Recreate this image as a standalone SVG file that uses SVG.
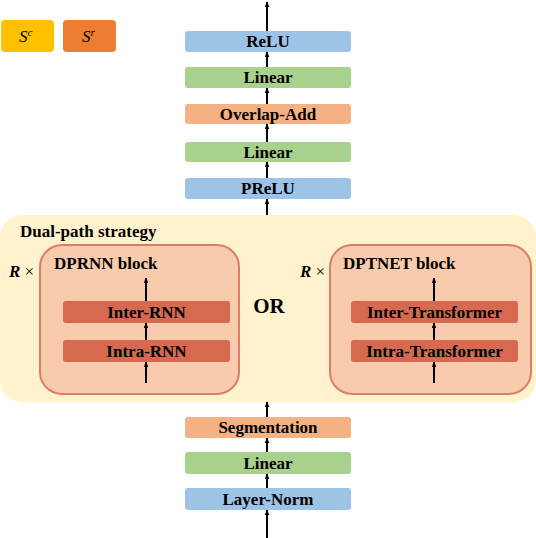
<svg xmlns="http://www.w3.org/2000/svg" width="536" height="538" viewBox="0 0 536 538">
<defs>
<marker id="ah" viewBox="0 0 10 10" refX="9" refY="5" markerWidth="6" markerHeight="5" orient="auto" markerUnits="userSpaceOnUse" preserveAspectRatio="none">
<path d="M0,0 L10,5 L0,10 z" fill="#000"/>
</marker>
<style>
.lbl{font-size:17px;text-anchor:middle;}
.blue{fill:#9DC3E6;}
.green{fill:#A9D18E;}
.orange{fill:#F4B183;}
.inner{fill:#D6694F;}
.blk{fill:#F8CBAD;stroke:#DD7D66;stroke-width:2;}
.arr{stroke:#000;stroke-width:2;fill:none;marker-end:url(#ah);}
</style>
</defs>
<rect width="536" height="538" fill="#fff"/>
<g id="legend">
<rect x="1" y="20" width="53" height="32" rx="4" fill="#FFC000"/>
<rect x="63" y="20" width="53" height="32" rx="4" fill="#ED7D31"/>
<text x="19" y="42" font-family="Liberation Serif" font-size="17" font-style="italic">S<tspan font-size="11" dy="-6">c</tspan></text>
<text x="82" y="42" font-family="Liberation Serif" font-size="17" font-style="italic">S<tspan font-size="11" dy="-6">r</tspan></text>
</g>
<g id="dualpath">
<rect x="0" y="215" width="536" height="187" rx="22" fill="#FFF2CC"/>
<text x="20" y="237" font-family="Liberation Serif" font-weight="bold" font-size="17">Dual-path strategy</text>
<text x="269" y="313" font-family="Liberation Serif" font-weight="bold" font-size="21" text-anchor="middle">OR</text>
</g>
<g id="dprnn">
<rect class="blk" x="40" y="245" width="199" height="149" rx="22"/>
<text x="54" y="269" font-family="Liberation Serif" font-weight="bold" font-size="17">DPRNN block</text>
<text x="9" y="277" font-family="Liberation Serif" font-weight="bold" font-size="17"><tspan font-style="italic">R</tspan> <tspan font-weight="normal">×</tspan></text>
</g>
<g id="inter-rnn"><rect class="inner" x="63" y="301" width="167" height="22" rx="3"/><text class="lbl" font-family="Liberation Serif" font-weight="bold" x="146.5" y="318">Inter-RNN</text></g>
<g id="intra-rnn"><rect class="inner" x="63" y="340" width="167" height="22" rx="3"/><text class="lbl" font-family="Liberation Serif" font-weight="bold" x="146.5" y="357">Intra-RNN</text></g>
<g id="dptnet">
<rect class="blk" x="330" y="245" width="201" height="149" rx="22"/>
<text x="343" y="269" font-family="Liberation Serif" font-weight="bold" font-size="17">DPTNET block</text>
<text x="300" y="277" font-family="Liberation Serif" font-weight="bold" font-size="17"><tspan font-style="italic">R</tspan> <tspan font-weight="normal">×</tspan></text>
</g>
<g id="inter-tf"><rect class="inner" x="351" y="301" width="167" height="22" rx="3"/><text class="lbl" font-family="Liberation Serif" font-weight="bold" x="434.5" y="318">Inter-Transformer</text></g>
<g id="intra-tf"><rect class="inner" x="351" y="340" width="167" height="22" rx="3"/><text class="lbl" font-family="Liberation Serif" font-weight="bold" x="434.5" y="357">Intra-Transformer</text></g>
<g id="relu"><rect class="blue" x="185" y="31" width="166" height="21" rx="3"/><text class="lbl" font-family="Liberation Serif" font-weight="bold" x="268" y="47">ReLU</text></g>
<g id="linear2"><rect class="green" x="185" y="67" width="166" height="21" rx="3"/><text class="lbl" font-family="Liberation Serif" font-weight="bold" x="268" y="83">Linear</text></g>
<g id="overlap"><rect class="orange" x="185" y="104" width="166" height="20" rx="3"/><text class="lbl" font-family="Liberation Serif" font-weight="bold" x="268" y="120">Overlap-Add</text></g>
<g id="linear1"><rect class="green" x="185" y="142" width="166" height="20" rx="3"/><text class="lbl" font-family="Liberation Serif" font-weight="bold" x="268" y="158">Linear</text></g>
<g id="prelu"><rect class="blue" x="185" y="178" width="166" height="21" rx="3"/><text class="lbl" font-family="Liberation Serif" font-weight="bold" x="268" y="194">PReLU</text></g>
<g id="segmentation"><rect class="orange" x="185" y="417" width="166" height="21" rx="3"/><text class="lbl" font-family="Liberation Serif" font-weight="bold" x="268" y="433">Segmentation</text></g>
<g id="linear0"><rect class="green" x="185" y="452" width="166" height="22" rx="3"/><text class="lbl" font-family="Liberation Serif" font-weight="bold" x="268" y="469">Linear</text></g>
<g id="layernorm"><rect class="blue" x="185" y="488" width="166" height="22" rx="3"/><text class="lbl" font-family="Liberation Serif" font-weight="bold" x="268" y="505">Layer-Norm</text></g>
<g id="connectors">
<line class="arr" x1="267" y1="538" x2="267" y2="510"/>
<line class="arr" x1="267" y1="488" x2="267" y2="474"/>
<line class="arr" x1="267" y1="452" x2="267" y2="438"/>
<line class="arr" x1="267" y1="417" x2="267" y2="402"/>
<line class="arr" x1="267" y1="215" x2="267" y2="199"/>
<line class="arr" x1="267" y1="178" x2="267" y2="162"/>
<line class="arr" x1="267" y1="142" x2="267" y2="124"/>
<line class="arr" x1="267" y1="104" x2="267" y2="88"/>
<line class="arr" x1="267" y1="67" x2="267" y2="52"/>
<line class="arr" x1="267" y1="31" x2="267" y2="2"/>
<line class="arr" x1="146" y1="383" x2="146" y2="362"/>
<line class="arr" x1="146" y1="340" x2="146" y2="323"/>
<line class="arr" x1="146" y1="301" x2="146" y2="278"/>
<line class="arr" x1="434" y1="383" x2="434" y2="362"/>
<line class="arr" x1="434" y1="340" x2="434" y2="323"/>
<line class="arr" x1="434" y1="301" x2="434" y2="278"/>
</g>
</svg>
